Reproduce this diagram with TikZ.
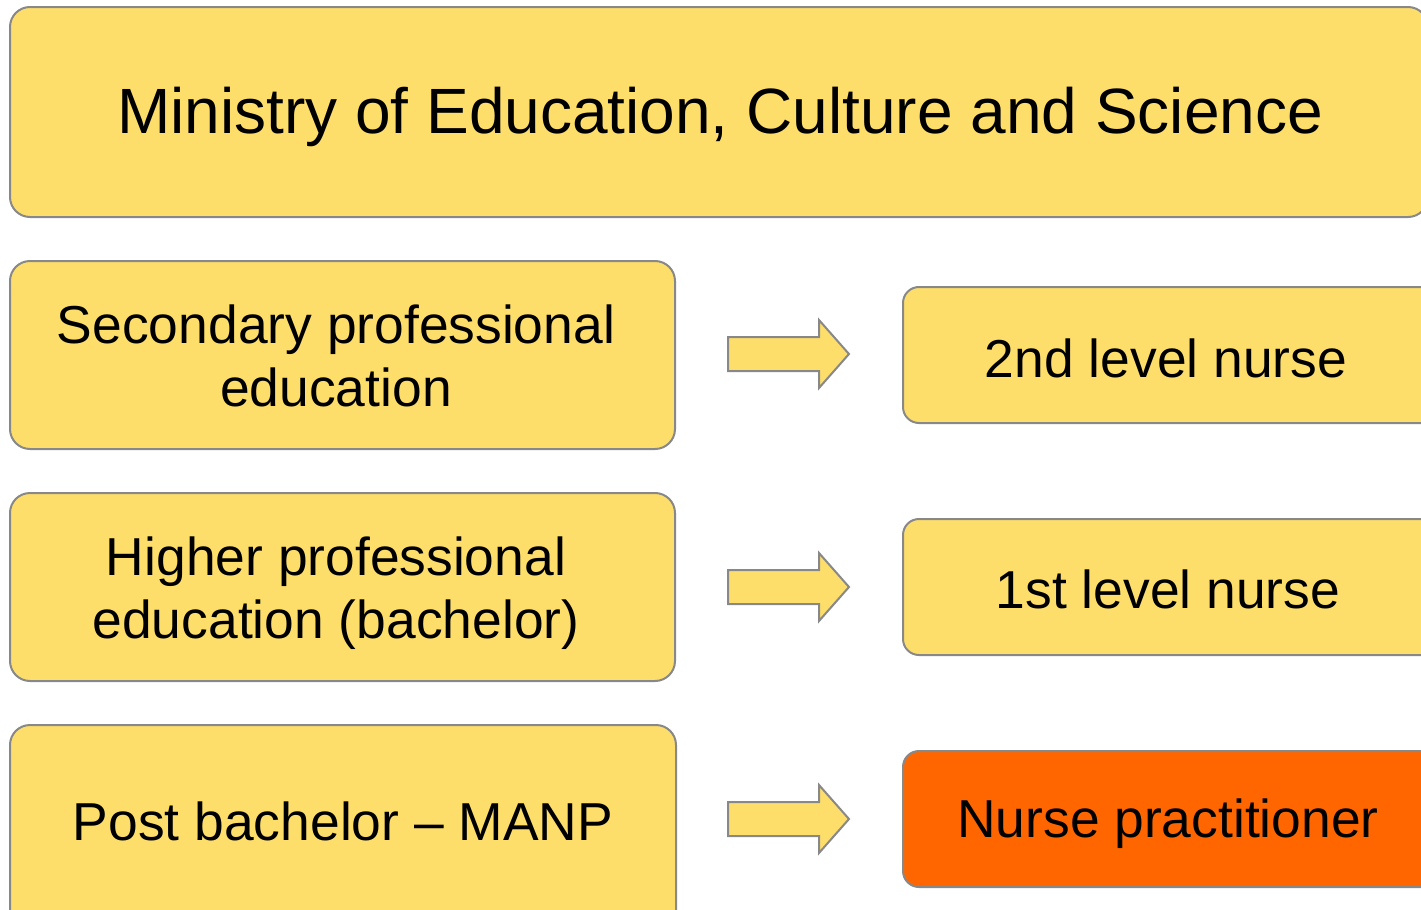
\documentclass[tikz,border=0pt]{standalone}
\usepackage{fontspec}
\setmainfont{Liberation Sans}
\definecolor{boxyellow}{HTML}{FDDE6B}
\definecolor{boxorange}{HTML}{FF6600}
\definecolor{boxline}{HTML}{888888}
\begin{document}
\begin{tikzpicture}[x=0.5pt,y=-0.5pt,
  box/.style={draw=boxline, line width=1pt, fill=boxyellow, rounded corners=10pt, align=center, inner sep=0pt},
  bigtxt/.style={font=\fontsize{32}{38}\selectfont},
  midtxt/.style={font=\fontsize{26.7}{31.6}\selectfont},
  blockarrow/.style={draw=boxline, line width=1pt, fill=boxyellow, line join=miter}]
\useasboundingbox (0,0) rectangle (1421,910);
\clip (0,0) rectangle (1421,910);
% top
\draw[box] (10,7) rectangle (1428,217);
\node[bigtxt] (ministry) at (720,117) {Ministry of Education, Culture and Science};
% left boxes
\draw[box] (10,261) rectangle (675,449);
\node[midtxt, align=center] (sec) at (336,356) {Secondary professional\\education};
\draw[box] (10,493) rectangle (675,681);
\node[midtxt, align=center] (hbo) at (336,593) {Higher professional\\education (bachelor)};
\draw[box] (10,725) rectangle (676,930);
\node[midtxt] (post) at (343,821) {Post bachelor -- MANP};
% right boxes
\draw[box, rounded corners=8pt] (903,287) rectangle (1440,423);
\node[midtxt] (n2) at (1166,358) {2nd level nurse};
\draw[box, rounded corners=8pt] (903,519) rectangle (1440,655);
\node[midtxt] (n1) at (1168,589) {1st level nurse};
\draw[box, rounded corners=8pt, fill=boxorange] (903,751) rectangle (1440,887);
\node[midtxt] (np) at (1168,824) {Nurse practitioner};
% arrows
\foreach \yy in {354,587,819}{
  \draw[blockarrow] (728,\yy-17) -- (819,\yy-17) -- (819,\yy-34) -- (849,\yy) -- (819,\yy+34) -- (819,\yy+17) -- (728,\yy+17) -- cycle;
}
\end{tikzpicture}
\end{document}
